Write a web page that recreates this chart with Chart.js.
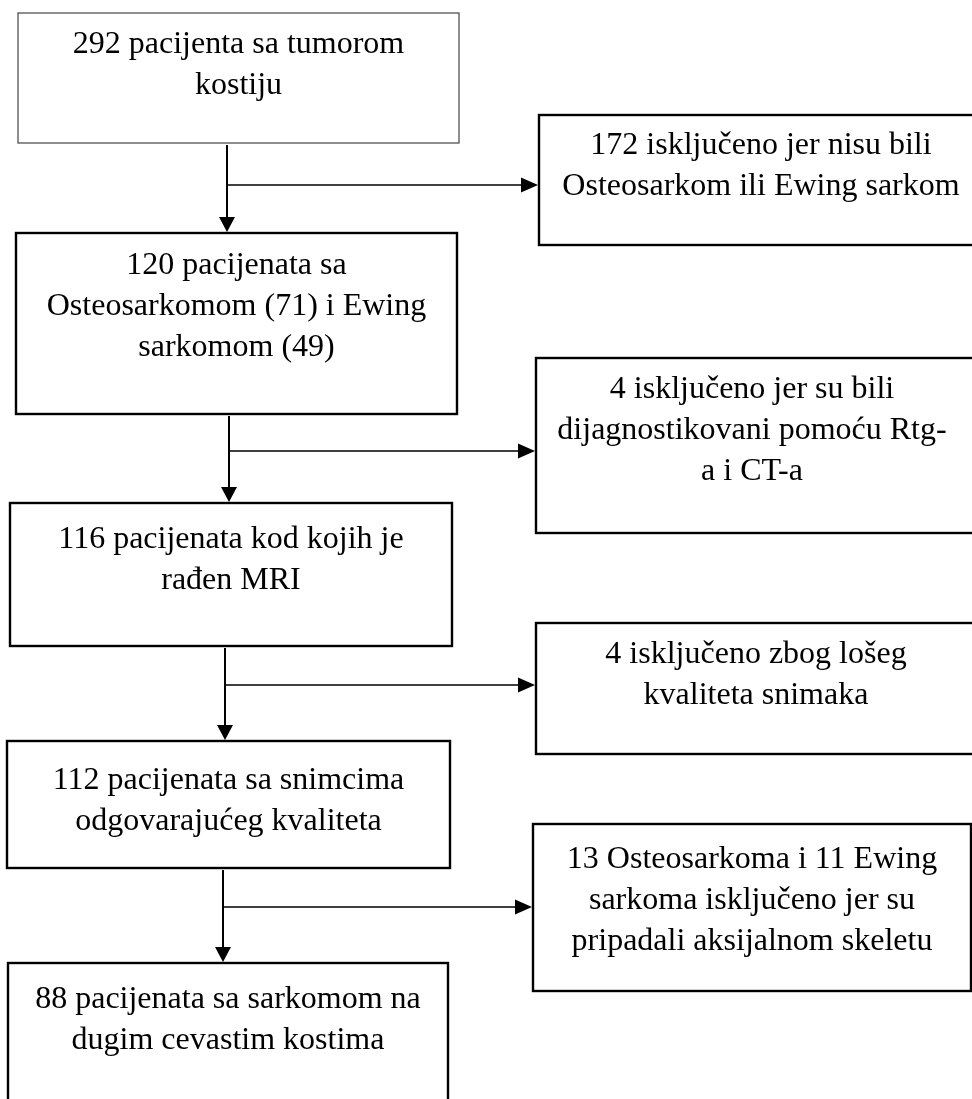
<!DOCTYPE html>
<html><head><meta charset="utf-8">
<script src="https://cdn.jsdelivr.net/npm/chart.js@4.4.1/dist/chart.umd.min.js"></script>
<style>html,body{margin:0;padding:0;background:#fff;}canvas{display:block;}</style>
</head><body>
<canvas id="c" width="972" height="1099"></canvas>
<script>
// ---- data (texts of the flow diagram) ----
const mainSteps = [
  ["292 pacijenta sa tumorom", "kostiju"],
  ["120 pacijenata sa", "Osteosarkomom (71) i Ewing", "sarkomom (49)"],
  ["116 pacijenata kod kojih je", "rađen MRI"],
  ["112 pacijenata sa snimcima", "odgovarajućeg kvaliteta"],
  ["88 pacijenata sa sarkomom na", "dugim cevastim kostima"]
];
const exclusions = [
  ["172 isključeno jer nisu bili", "Osteosarkom ili Ewing sarkom"],
  ["4 isključeno jer su bili", "dijagnostikovani pomoću Rtg-", "a i CT-a"],
  ["4 isključeno zbog lošeg", "kvaliteta snimaka"],
  ["13 Osteosarkoma i 11 Ewing", "sarkoma isključeno jer su", "pripadali aksijalnom skeletu"]
];

// ---- layout (page units, mapped through the chart scales) ----
const MAIN_BOX = [
  {x0:18, x1:459, y0:13,  y1:143,  ty:45,  lw:1.2, col:'#444'},
  {x0:16, x1:457, y0:233, y1:414,  ty:266},
  {x0:10, x1:452, y0:503, y1:646,  ty:540},
  {x0:7,  x1:450, y0:741, y1:868,  ty:781},
  {x0:8,  x1:448, y0:963, y1:1130, ty:1000}
];
const SIDE_BOX = [
  {x0:539, x1:995, y0:115, y1:245, cx:761, ty:146},
  {x0:536, x1:995, y0:358, y1:533, cx:752, ty:390},
  {x0:536, x1:995, y0:623, y1:754, cx:756, ty:655},
  {x0:533, x1:971, y0:824, y1:991, cx:752, ty:860}
];
const CONNECT = [ {x:227, y:185}, {x:229, y:451}, {x:225, y:685}, {x:223, y:907} ];
const LINE_H = 41;
const FONT = '32px "Liberation Serif", "Times New Roman", serif';

const flowPlugin = {
  id: 'flow',
  beforeDraw(chart) {
    const c = chart.ctx;
    c.save(); c.fillStyle = '#fff'; c.fillRect(0, 0, chart.width, chart.height); c.restore();
  },
  afterDraw(chart) {
    const c = chart.ctx, sx = chart.scales.x, sy = chart.scales.y;
    const X = v => sx.getPixelForValue(v), Y = v => sy.getPixelForValue(v);
    c.save();
    function box(b, lines, cx) {
      c.lineWidth = b.lw || 2.4;
      c.strokeStyle = b.col || '#000';
      c.strokeRect(X(b.x0), Y(b.y0), X(b.x1) - X(b.x0), Y(b.y1) - Y(b.y0));
      c.fillStyle = '#000';
      c.font = FONT;
      c.textAlign = 'center';
      c.textBaseline = 'middle';
      lines.forEach((t, i) => c.fillText(t, X(cx), Y(b.ty + i * LINE_H)));
    }
    mainSteps.forEach((lines, i) => { const b = MAIN_BOX[i]; box(b, lines, (b.x0 + b.x1) / 2); });
    exclusions.forEach((lines, i) => { const b = SIDE_BOX[i]; box(b, lines, b.cx); });

    c.strokeStyle = '#000'; c.fillStyle = '#000';
    CONNECT.forEach((k, i) => {
      const top = MAIN_BOX[i].y1, bot = MAIN_BOX[i + 1].y0, right = SIDE_BOX[i].x0;
      // vertical
      c.lineWidth = 2;
      c.beginPath(); c.moveTo(X(k.x), Y(top) + 2); c.lineTo(X(k.x), Y(bot) - 14); c.stroke();
      c.beginPath();
      c.moveTo(X(k.x), Y(bot) - 1); c.lineTo(X(k.x) - 8, Y(bot) - 16); c.lineTo(X(k.x) + 8, Y(bot) - 16);
      c.closePath(); c.fill();
      // horizontal
      c.lineWidth = 1.5;
      c.beginPath(); c.moveTo(X(k.x), Y(k.y)); c.lineTo(X(right) - 16, Y(k.y)); c.stroke();
      c.beginPath();
      c.moveTo(X(right) - 1, Y(k.y)); c.lineTo(X(right) - 18, Y(k.y) - 7.5); c.lineTo(X(right) - 18, Y(k.y) + 7.5);
      c.closePath(); c.fill();
    });
    c.restore();
  }
};

new Chart(document.getElementById('c'), {
  type: 'scatter',
  data: { datasets: [{ data: [], pointRadius: 0 }] },
  options: {
    responsive: false, animation: false,
    layout: { padding: 0 },
    plugins: { legend: { display: false }, tooltip: { enabled: false } },
    scales: {
      x: { type: 'linear', min: 0, max: 972, display: false },
      y: { type: 'linear', min: 0, max: 1099, reverse: true, display: false }
    }
  },
  plugins: [flowPlugin]
});
</script>
</body></html>
